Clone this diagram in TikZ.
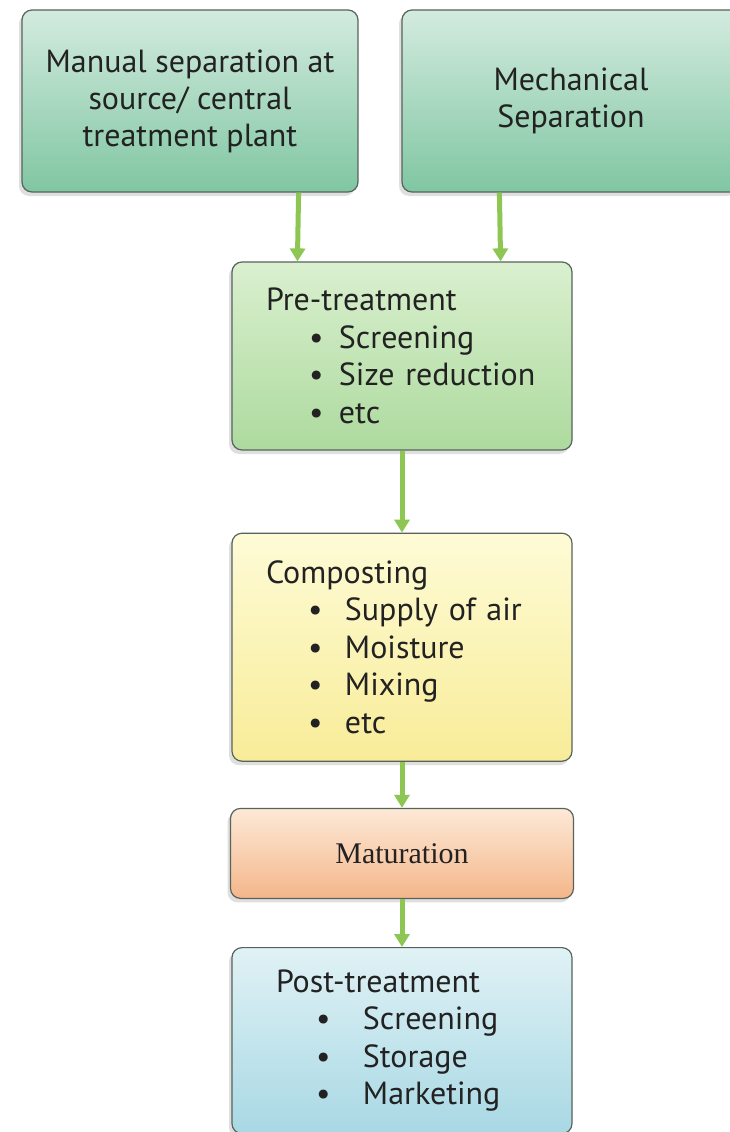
\documentclass[tikz,border=0pt]{standalone}
\usepackage{fontspec}
\setmainfont{PT Sans}
\newfontfamily\matfont{Liberation Serif}
\usetikzlibrary{arrows.meta,positioning,shadows}

\definecolor{boxline}{HTML}{56645C}
\definecolor{arrowgreen}{HTML}{8DC653}
\definecolor{inktext}{HTML}{222222}
\definecolor{sepTop}{HTML}{D3EBDF}
\definecolor{sepBot}{HTML}{80C6A2}
\definecolor{preTop}{HTML}{DAF0CF}
\definecolor{preBot}{HTML}{ADDA9E}
\definecolor{compTop}{HTML}{FEFBD6}
\definecolor{compBot}{HTML}{F8EC98}
\definecolor{matTop}{HTML}{FDE9D7}
\definecolor{matBot}{HTML}{F4B68A}
\definecolor{postTop}{HTML}{E0F2F5}
\definecolor{postBot}{HTML}{A8D8E4}

\newcommand{\bitem}[3]{\hspace*{#1}\makebox[#2][l]{\textbullet}#3}

\begin{document}
\begin{tikzpicture}[x=1pt, y=1pt,
  stage/.style={rectangle, rounded corners=10pt, draw=boxline, line width=1.2pt,
    drop shadow={shadow xshift=-3pt, shadow yshift=-4pt, opacity=0.25},
    align=center, text=inktext, font=\fontsize{32}{37}\selectfont},
  listbox/.style={stage, align=left, text width=272pt, inner xsep=34pt, inner ysep=0pt,
    font=\fontsize{32}{37.5}\selectfont},
  flow/.style={-{Triangle[length=13pt, width=15pt]}, line width=5pt, draw=arrowgreen}
]
\clip (0,0) rectangle (730,-1132);
\fill[white] (0,0) rectangle (730,-1132);

\node[stage, minimum width=336pt, minimum height=182pt, top color=sepTop, bottom color=sepBot]
  (manual) at (190,-101) {Manual separation at\\source/ central\\treatment plant};
\node[stage, minimum width=338pt, minimum height=182pt, top color=sepTop, bottom color=sepBot]
  (mech) at (571,-101) {Mechanical\\Separation};

\node[listbox, minimum height=188pt, top color=preTop, bottom color=preBot]
  (pre) at (402,-356) {Pre-treatment\\
  \bitem{43pt}{30pt}{Screening}\\
  \bitem{43pt}{30pt}{Size reduction}\\
  \bitem{43pt}{30pt}{etc}};
\node[listbox, minimum height=228pt, below=82pt of pre, top color=compTop, bottom color=compBot]
  (comp) {Composting\\
  \bitem{42pt}{37pt}{Supply of air}\\
  \bitem{42pt}{37pt}{Moisture}\\
  \bitem{42pt}{37pt}{Mixing}\\
  \bitem{42pt}{37pt}{etc}};
\node[stage, minimum width=343pt, minimum height=90pt, below=46pt of comp, top color=matTop, bottom color=matBot,
  font=\matfont\fontsize{30}{34}\selectfont]
  (mat) {Maturation};
\node[listbox, minimum height=186pt, below=48pt of mat, top color=postTop, bottom color=postBot]
  (post) {\hspace*{10pt}Post-treatment\\
  \bitem{50pt}{47pt}{Screening}\\
  \bitem{50pt}{47pt}{Storage}\\
  \bitem{50pt}{47pt}{Marketing}};

\draw[flow] ([xshift=-60pt]manual.south east) -- ([xshift=66pt]pre.north west);
\draw[flow] ([xshift=98pt]mech.south west) -- ([xshift=-72pt]pre.north east);
\draw[flow] (pre) -- (comp);
\draw[flow] (comp) -- (mat);
\draw[flow] (mat) -- (post);
\end{tikzpicture}
\end{document}
